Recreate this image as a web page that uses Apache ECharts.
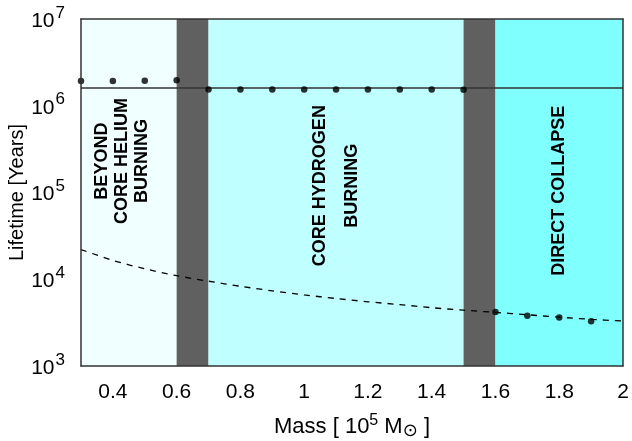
<!DOCTYPE html>
<html>
<head>
<meta charset="utf-8">
<script src="https://cdn.jsdelivr.net/npm/echarts@6/dist/echarts.min.js"></script>
<style>
html,body{margin:0;padding:0;background:#fff;}
#chart{width:632px;height:441px;}
</style>
</head>
<body>
<div id="chart"></div>
<script>
// ---- data ----
const massTicks = [0.4, 0.6, 0.8, 1, 1.2, 1.4, 1.6, 1.8, 2];
const lifeTicks = [1e3, 1e4, 1e5, 1e6, 1e7];
const bandEdges = [0.3, 0.6, 0.7, 1.5, 1.6, 2.0];

const heliumMass = [0.3, 0.4, 0.5, 0.6];
const heliumLife = [1.93e6, 1.93e6, 1.94e6, 1.97e6];

const hydrogenMass = [0.7, 0.8, 0.9, 1.0, 1.1, 1.2, 1.3, 1.4, 1.5];
const hydrogenLife = [1.54e6, 1.54e6, 1.54e6, 1.54e6, 1.54e6, 1.54e6, 1.54e6, 1.54e6, 1.53e6];

const collapseMass = [1.6, 1.7, 1.8, 1.9];
const collapseLife = [4200, 3800, 3630, 3280];

const refLineMass = [0.3, 2.0];
const refLineLife = [1.6e6, 1.6e6];

const dashMass = [0.3, 0.4, 0.5, 0.6, 0.7, 0.8, 0.9, 1.0, 1.1, 1.2, 1.3, 1.4, 1.5, 1.6, 1.7, 1.8, 1.9, 2.0];
const dashLife = [22000, 16500, 13200, 11000, 9500, 8300, 7350, 6600, 6000, 5500, 5100, 4700, 4400, 4150, 3900, 3650, 3450, 3300];

const regimeNames = ['BEYOND\nCORE HELIUM\nBURNING', 'CORE HYDROGEN\nBURNING', 'DIRECT COLLAPSE'];
const regimeMass = [0.43, 1.1, 1.8];
const regimeLife = [2.3e5, 1.2e5, 1.05e5];

// ---- styles ----
const bandColors = ['#f0ffff', '#606060', '#c0ffff', '#606060', '#80ffff'];
const regimeLineHeights = [20, 32, 20];
const FONT = '"Liberation Sans", Arial, sans-serif';
const FRAME = '#333333';

const zip = (a, b) => a.map((v, i) => [v, b[i]]);

const bandData = bandColors.map((c, i) => [
  { xAxis: bandEdges[i], yAxis: lifeTicks[0], itemStyle: { color: c, opacity: 1, borderWidth: 0 } },
  { xAxis: bandEdges[i + 1], yAxis: lifeTicks[lifeTicks.length - 1] }
]);

const chart = echarts.init(document.getElementById('chart'), null, { renderer: 'canvas' });

const frameAxisLine = { show: true, lineStyle: { color: FRAME, width: 1.5 } };

chart.setOption({
  animation: false,
  backgroundColor: '#ffffff',
  grid: { left: 81, right: 9, top: 19, bottom: 75, containLabel: false, outerBoundsMode: 'none' },
  xAxis: [{
    type: 'value',
    min: bandEdges[0],
    max: bandEdges[bandEdges.length - 1],
    z: 10,
    axisLine: frameAxisLine,
    axisTick: { show: false },
    splitLine: { show: false },
    axisLabel: {
      customValues: massTicks,
      margin: 16,
      fontSize: 21,
      fontFamily: FONT,
      color: '#000',
      formatter: v => String(+(+v).toFixed(1))
    },
    name: '{t|Mass [ 10}{sup|5}{t| M}{sub|⊙}{t| ]}',
    nameLocation: 'middle',
    nameGap: 47,
    nameMoveOverlap: false,
    nameTextStyle: {
      rich: {
        t: { fontSize: 22, fontFamily: FONT, color: '#000' },
        sup: { fontSize: 16, fontFamily: FONT, color: '#000', padding: [0, 0, 12, 0] },
        sub: { fontSize: 18, fontFamily: '"DejaVu Sans", sans-serif', color: '#000', padding: [9, 0, 0, 0] }
      }
    }
  }, {
    type: 'value',
    position: 'top',
    min: bandEdges[0],
    max: bandEdges[bandEdges.length - 1],
    z: 10,
    axisLine: frameAxisLine,
    axisTick: { show: false },
    splitLine: { show: false },
    axisLabel: { show: false }
  }],
  yAxis: [{
    type: 'log',
    logBase: 10,
    min: lifeTicks[0],
    max: lifeTicks[lifeTicks.length - 1],
    z: 10,
    axisLine: frameAxisLine,
    axisTick: { show: false },
    splitLine: { show: false },
    axisLabel: {
      customValues: lifeTicks,
      margin: 16,
      formatter: v => '{b|10}{s|' + Math.round(Math.log10(v)) + '}',
      rich: {
        b: { fontSize: 21, fontFamily: FONT, color: '#000', padding: [4, 0, 0, 0] },
        s: { fontSize: 17, fontFamily: FONT, color: '#000', padding: [0, 0, 12, 1] }
      }
    },
    name: 'Lifetime [Years]',
    nameLocation: 'middle',
    nameGap: 54,
    nameMoveOverlap: false,
    nameTextStyle: { fontSize: 20, fontFamily: FONT, color: '#000' }
  }, {
    type: 'log',
    logBase: 10,
    position: 'right',
    min: lifeTicks[0],
    max: lifeTicks[lifeTicks.length - 1],
    z: 10,
    axisLine: frameAxisLine,
    axisTick: { show: false },
    splitLine: { show: false },
    axisLabel: { show: false }
  }],
  series: [
    {
      type: 'line',
      data: [],
      z: 1,
      silent: true,
      markArea: {
        silent: true,
        label: { show: false },
        emphasis: { disabled: true },
        data: bandData
      }
    },
    {
      type: 'line',
      z: 3,
      data: zip(refLineMass, refLineLife),
      showSymbol: false,
      symbol: 'none',
      lineStyle: { color: FRAME, width: 1.5 },
      silent: true
    },
    {
      type: 'line',
      z: 3,
      data: zip(dashMass, dashLife),
      showSymbol: false,
      symbol: 'none',
      smooth: 0.3,
      lineStyle: { color: '#000', width: 1.3, type: [6, 6] },
      silent: true
    },
    {
      type: 'scatter',
      z: 4,
      clip: false,
      symbolSize: 6.5,
      itemStyle: { color: '#000' },
      data: zip(heliumMass, heliumLife).concat(zip(hydrogenMass, hydrogenLife), zip(collapseMass, collapseLife)),
      silent: true
    }
  ]
});

// regime annotations, placed in data coordinates
chart.setOption({
  graphic: regimeNames.map((n, i) => {
    const p = chart.convertToPixel({ xAxisIndex: 0, yAxisIndex: 0 }, [regimeMass[i], regimeLife[i]]);
    return {
      type: 'text',
      x: p[0],
      y: p[1],
      rotation: Math.PI / 2,
      z: 50,
      silent: true,
      style: {
        text: n,
        fill: '#000',
        font: 'bold 18px ' + FONT,
        align: 'center',
        verticalAlign: 'middle',
        lineHeight: regimeLineHeights[i]
      }
    };
  })
});
</script>
</body>
</html>
